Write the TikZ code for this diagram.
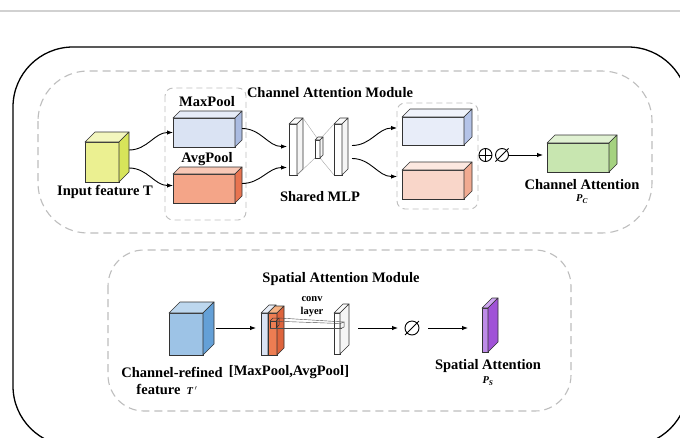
\documentclass[tikz,border=0pt]{standalone}
\usepackage{fontspec}
\setmainfont{Liberation Serif}
\usetikzlibrary{arrows.meta,calc}
\definecolor{yelF}{RGB}{235,240,145}\definecolor{yelT}{RGB}{243,246,190}\definecolor{yelS}{RGB}{215,228,90}
\definecolor{maxF}{RGB}{218,227,243}\definecolor{maxT}{RGB}{230,236,248}\definecolor{maxS}{RGB}{170,187,225}
\definecolor{avgF}{RGB}{244,165,136}\definecolor{avgT}{RGB}{248,200,182}\definecolor{avgS}{RGB}{232,116,80}
\definecolor{upF}{RGB}{232,237,249}\definecolor{upT}{RGB}{240,243,251}\definecolor{upS}{RGB}{180,195,232}
\definecolor{loF}{RGB}{249,214,201}\definecolor{loT}{RGB}{252,232,224}\definecolor{loS}{RGB}{241,170,145}
\definecolor{grnF}{RGB}{200,230,176}\definecolor{grnT}{RGB}{224,241,210}\definecolor{grnS}{RGB}{165,210,128}
\definecolor{bluF}{RGB}{157,195,230}\definecolor{bluT}{RGB}{189,215,238}\definecolor{bluS}{RGB}{100,160,215}
\definecolor{bslF}{RGB}{218,227,243}\definecolor{bslT}{RGB}{232,238,248}\definecolor{bslS}{RGB}{180,199,231}
\definecolor{oslF}{RGB}{237,125,82}\definecolor{oslT}{RGB}{244,177,131}\definecolor{oslS}{RGB}{222,100,60}
\definecolor{whF}{RGB}{255,255,255}\definecolor{whT}{RGB}{250,250,250}\definecolor{whS}{RGB}{245,245,245}
\definecolor{purF}{RGB}{190,140,232}\definecolor{purT}{RGB}{205,165,240}\definecolor{purS}{RGB}{160,82,215}
\definecolor{dashgray}{RGB}{190,190,190}
\tikzset{
  cubeface/.style={draw=black!80, line width=0.6pt, inner sep=0pt, outer sep=0pt},
  cubeedge/.style={draw=black!80, line width=0.6pt, line join=round},
  dashbox/.style={draw=dashgray, line width=1.1pt, dash pattern=on 8pt off 5pt},
  arr/.style={draw=black, line width=0.9pt, -{Latex[length=6pt,width=4.5pt]}},
  lbl/.style={font=\fontsize{14.5}{16}\selectfont\bfseries, inner sep=0pt},
  small/.style={font=\fontsize{10.5}{12}\selectfont\bfseries, inner sep=0pt},
  sub/.style={font=\fontsize{10.5}{12}\selectfont\bfseries\itshape, inner sep=0pt},
  opcirc/.style={circle, draw=black, line width=0.9pt, minimum size=13pt, inner sep=0pt, outer sep=0pt}
}
\newcommand{\mkcube}[6]{%
  \node[cubeface, fill=#6F, minimum width=#3pt, minimum height=#4pt] (#1) at #2 {};
  \draw[cubeedge, fill=#6T] (#1.north west) -- ++(#5,-#5) -- ++(#3,0) -- (#1.north east) -- cycle;
  \draw[cubeedge, fill=#6S] (#1.north east) -- ++(#5,-#5) -- ++(0,#4) -- (#1.south east) -- cycle;
}
\begin{document}
\begin{tikzpicture}[x=1pt,y=-1pt]
\useasboundingbox (0,0) rectangle (680,437);
\fill[white] (0,0) rectangle (680,437);
\clip (0,0) rectangle (680,437);
% top rule
\draw[black!18, line width=1.6pt] (0,11) -- (680,11);
% outer frame
\draw[black, line width=1.3pt, rounded corners=60pt] (13,47) rectangle (688,446);
% module frames
\draw[dashbox, rounded corners=50pt] (38,71) rectangle (652,233);
\draw[dashbox, rounded corners=36pt] (108,250) rectangle (571,411);
\draw[dashbox, line width=0.9pt, dash pattern=on 6pt off 4pt, rounded corners=8pt] (165,88) rectangle (246,220);
\draw[dashbox, line width=0.9pt, dash pattern=on 6pt off 4pt, rounded corners=8pt] (397,103) rectangle (478,209);

% ---------- channel attention ----------
\node[lbl] (catitle) at (330,93) {Channel Attention Module};
\mkcube{inp}{(102,162)}{34}{40}{10}{yel}
\node[lbl] (inplbl) at (105,192) {Input feature T};
\mkcube{maxp}{(204,132.5)}{62}{29}{7}{max}
\node[lbl] (maxlbl) at (207,102) {MaxPool};
\mkcube{avgp}{(204,188.5)}{62}{29}{7}{avg}
\node[lbl] (avglbl) at (207,159) {AvgPool};

% shared MLP
\mkcube{lbar}{(293,149.5)}{8}{51}{6}{wh}
\mkcube{rbar}{(338,149.5)}{8}{51}{6}{wh}
\mkcube{mid}{(317.5,149)}{5}{18}{3}{wh}
\draw[black!35, line width=0.4pt] ($(lbar.north east)+(6,-6)$) -- ($(mid.north west)+(2,-2)$);
\draw[black!35, line width=0.4pt] (rbar.north west) -- ($(mid.north east)+(2,-3)$);
\draw[black!35, line width=0.4pt] (lbar.south east) -- (mid.south west);
\draw[black!35, line width=0.4pt] (rbar.south west) -- (mid.south east);
\node[lbl] (mlplbl) at (320,197) {Shared MLP};

\mkcube{up}{(433,131)}{62}{28}{8}{up}
\mkcube{lo}{(433,184.5)}{62}{29}{8}{lo}

% oplus and empty-set symbols
\node[opcirc] (plus) at (485.5,155) {};
\draw[black, line width=0.9pt] (plus.north) -- (plus.south) (plus.west) -- (plus.east);
\node[opcirc] (slash) at (502,155) {};
\draw[black, line width=0.9pt] ($(slash.south west)+(-2,2)$) -- ($(slash.north east)+(2,-2)$);

\mkcube{ca}{(578,157.5)}{62}{29}{8}{grn}
\node[lbl] (calbl) at (582,185) {Channel Attention};
\node[sub] (pc) at (582,199) {P\textsubscript{C}};

% arrows channel
\draw[arr] ($(inp.east)+(10,-12)$) to[out=0,in=180] (maxp.west);
\draw[arr] ($(inp.east)+(10,6)$) to[out=0,in=180] ($(avgp.west)+(0,-3)$);
\draw[arr] ($(maxp.east)+(7,-4)$) to[out=0,in=180] ($(lbar.west)+(-2,-3)$);
\draw[arr] ($(avgp.east)+(7,-5)$) to[out=0,in=180] ($(lbar.west)+(-2,18)$);
\draw[arr] ($(rbar.east)+(10,-4)$) to[out=0,in=180] ($(up.west)+(-5,-3)$);
\draw[arr] ($(rbar.east)+(10,9)$) to[out=0,in=180] ($(lo.west)+(-5,-8)$);
\draw[arr] (slash.east) -- ($(ca.west)+(-4,-2.5)$);

% ---------- spatial attention ----------
\node[lbl] (satitle) at (341,279) {Spatial Attention Module};
\mkcube{cr}{(186,334)}{34}{42}{11}{blu}
\mkcube{bsl}{(264.5,334)}{7}{42}{8}{bsl}
\mkcube{osl}{(272.5,334)}{9}{42}{7}{osl}
\mkcube{wsl}{(337,333.5)}{6}{41}{9}{wh}
% small kernel cube and beam
\draw[black!80, line width=0.5pt] (270,321) rectangle (276,328);
\draw[black!80, line width=0.5pt] (270,321) -- ++(3,-3) -- ++(6,0) -- (276,321);
\draw[black!80, line width=0.5pt] (279,318) -- ++(0,7) -- (276,328);
\draw[black!70, line width=0.4pt] (270,321) -- (340,323.5);
\draw[black!70, line width=0.4pt] (279,318) -- (344,322);
\draw[black!70, line width=0.4pt] (276,328) -- (342,328);
\draw[black!70, line width=0.4pt] (270,328) -- (340,328);
\draw[black!70, line width=0.5pt] (340,323.5) -- (344,322) -- (344,327) -- (342,328) -- (340,328) -- cycle;
\node[small] (conv) at (312,299) {conv};
\node[small] (layer) at (312,312) {layer};

\node[opcirc, minimum size=14pt] (emp) at (412,328) {};
\draw[black, line width=0.9pt] ($(emp.south west)+(-2,2)$) -- ($(emp.north east)+(2,-2)$);
\mkcube{pur}{(485,330)}{6}{44}{10}{pur}

\draw[arr] ($(cr.east)+(13,-6)$) -- ($(bsl.west)+(-5,-6)$);
\draw[arr] ($(wsl.east)+(18,-5.5)$) -- ($(emp.west)+(-7,0)$);
\draw[arr] ($(emp.east)+(9,0)$) -- ($(pur.west)+(-14,-2)$);

\node[lbl] (crlbl) at (172,372) {Channel-refined};
\node[lbl] (mplbl) at (289,372) {[MaxPool,AvgPool]};
\node[lbl] (ftlbl) at (167,389) {feature \,{\fontsize{10.5}{12}\selectfont\itshape T\,$'$}};
\node[lbl] (salbl) at (488,366) {Spatial Attention};
\node[sub] (ps) at (488,381) {P\textsubscript{S}};
\end{tikzpicture}
\end{document}
